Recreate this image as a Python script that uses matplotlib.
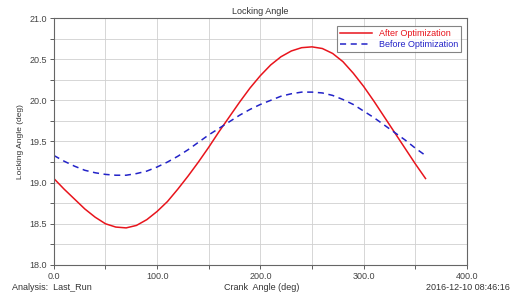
import matplotlib
matplotlib.use('Agg')
import matplotlib.pyplot as plt
from matplotlib.ticker import MultipleLocator

plt.rcParams['font.family'] = ['Liberation Sans', 'DejaVu Sans']

# crank angle (deg)
crank = list(range(0, 361, 10))
# locking angle after optimization (deg)
after_opt = [19.05, 18.92, 18.80, 18.68, 18.58, 18.50, 18.46, 18.45, 18.48, 18.55,
             18.65, 18.77, 18.92, 19.08, 19.25, 19.43, 19.62, 19.80, 19.98, 20.15,
             20.30, 20.43, 20.53, 20.60, 20.64, 20.65, 20.63, 20.57, 20.47, 20.33,
             20.17, 19.99, 19.80, 19.61, 19.42, 19.23, 19.05]
# locking angle before optimization (deg)
before_opt = [19.33, 19.26, 19.20, 19.15, 19.12, 19.10, 19.09, 19.09, 19.11, 19.14,
              19.19, 19.25, 19.32, 19.40, 19.49, 19.58, 19.66, 19.74, 19.82, 19.89,
              19.95, 20.00, 20.05, 20.08, 20.10, 20.10, 20.09, 20.06, 20.01, 19.95,
              19.87, 19.79, 19.70, 19.61, 19.52, 19.42, 19.33]

fig = plt.figure(figsize=(5.13, 2.96), dpi=100)
ax = fig.add_axes([0.105, 0.105, 0.805, 0.834])

ax.plot(crank, after_opt, color='#e8141c', lw=1.1, label='After Optimization')
ax.plot(crank, before_opt, color='#2323c8', lw=1.1, ls=(0, (4, 3)), label='Before Optimization')

ax.set_xlim(0, 400)
ax.set_ylim(18.0, 21.0)
ax.xaxis.set_major_locator(MultipleLocator(100))
ax.xaxis.set_minor_locator(MultipleLocator(50))
ax.yaxis.set_major_locator(MultipleLocator(0.5))
ax.yaxis.set_minor_locator(MultipleLocator(0.25))
ax.xaxis.set_major_formatter(plt.FuncFormatter(lambda v, p: f'{v:.1f}'))
ax.yaxis.set_major_formatter(plt.FuncFormatter(lambda v, p: f'{v:.1f}'))
ax.grid(True, which='both', color='#d0d0d0', lw=0.6)
ax.set_axisbelow(True)
ax.tick_params(which='both', labelsize=6.5, colors='#444444', length=3, width=0.6, pad=2)
for s in ax.spines.values():
    s.set_color('#666666')
    s.set_linewidth(0.8)

ax.set_title('Locking Angle', fontsize=6.5, color='#333333', pad=3)
ax.set_ylabel('Locking Angle (deg)', fontsize=6, color='#333333', labelpad=4)

leg = ax.legend(loc='upper right', fontsize=6.5, frameon=True, fancybox=False,
                handlelength=3.5, borderpad=0.35, labelspacing=0.2, borderaxespad=0.6,
                bbox_to_anchor=(1.0, 0.99))
leg.get_frame().set_edgecolor('#666666')
leg.get_frame().set_linewidth(0.8)
for txt, c in zip(leg.get_texts(), ['#e8141c', '#2323c8']):
    txt.set_color(c)

fig.text(12 / 513, 1 - 287 / 296, 'Analysis:  Last_Run', fontsize=6.5, color='#333333', va='center')
fig.text(262 / 513, 1 - 287 / 296, 'Crank  Angle (deg)', fontsize=6.5, color='#333333', va='center', ha='center')
fig.text(510 / 513, 1 - 287 / 296, '2016-12-10 08:46:16', fontsize=6.5, color='#333333', va='center', ha='right')

fig.savefig('out.png', dpi=100)
